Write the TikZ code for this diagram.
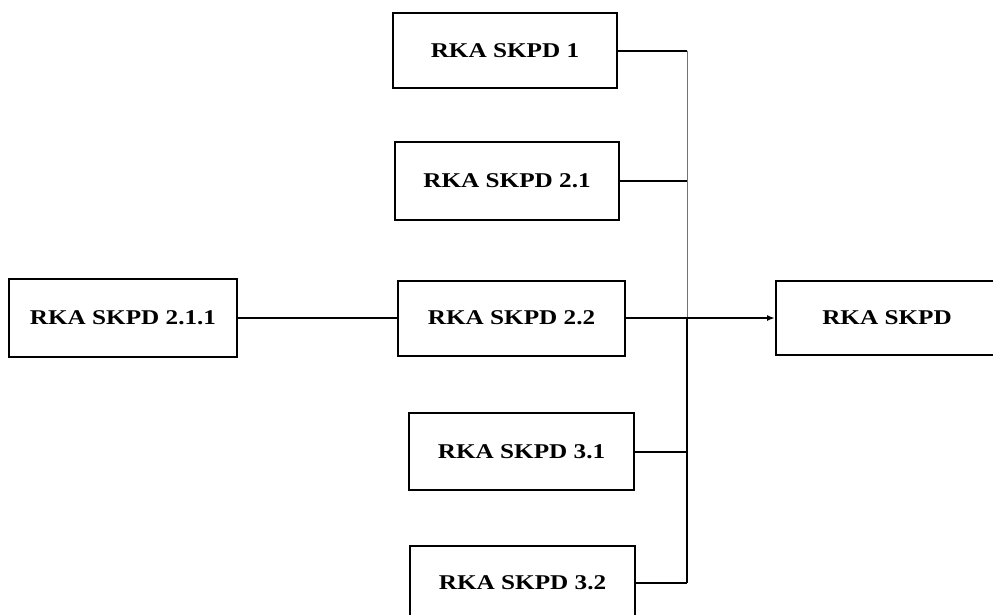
\documentclass[tikz,border=0pt]{standalone}
\usepackage{fontspec}
\setmainfont{Liberation Serif}[FakeStretch=1.2]
\usetikzlibrary{arrows.meta}

\tikzset{
  rka/.style={draw=black, line width=2pt, fill=white, inner sep=0pt,
    font=\fontsize{21}{25}\selectfont\bfseries},
  conn/.style={draw=black, line width=2pt},
  thinbus/.style={draw=black!55, line width=1pt},
  arr/.style={conn, -{Latex[length=8pt,width=6pt]}}
}

\begin{document}
\begin{tikzpicture}[x=1pt, y=-1pt]
  \useasboundingbox (0,0) rectangle (993,614);
  \clip (0,0) rectangle (993,614);

  % boxes
  \node[rka, minimum width=224pt, minimum height=75pt] (b1)   at (505,50.5)  {RKA SKPD 1};
  \node[rka, minimum width=224pt, minimum height=78pt] (b21)  at (507,181)   {RKA SKPD 2.1};
  \node[rka, minimum width=227pt, minimum height=75pt] (b22)  at (511.5,318) {RKA SKPD 2.2};
  \node[rka, minimum width=225pt, minimum height=77pt] (b31)  at (521.5,451.5) {RKA SKPD 3.1};
  \node[rka, minimum width=225pt, minimum height=75pt] (b32)  at (522.5,583) {RKA SKPD 3.2};
  \node[rka, minimum width=228pt, minimum height=78pt] (b211) at (123,318)   {RKA SKPD 2.1.1};
  \node[rka, minimum width=222pt, minimum height=74pt] (out)  at (887,318)   {RKA SKPD};

  % collecting bus
  \coordinate (busx) at (687,0);

  \draw[conn] (b211.east) -- (b22.west);
  \draw[conn] (b1.east)  -- (b1.east -| busx);
  \draw[conn] (b21.east) -- (b21.east -| busx);
  \draw[conn] (b31.east) -- (b31.east -| busx);
  \draw[conn] (b32.east) -- (b32.east -| busx);

  \draw[thinbus] (b1.east -| busx) -- (b22.east -| busx);
  \draw[conn] (b22.east -| busx) -- (b32.east -| busx);

  \draw[arr] (b22.east) -- (out.west);
\end{tikzpicture}
\end{document}
